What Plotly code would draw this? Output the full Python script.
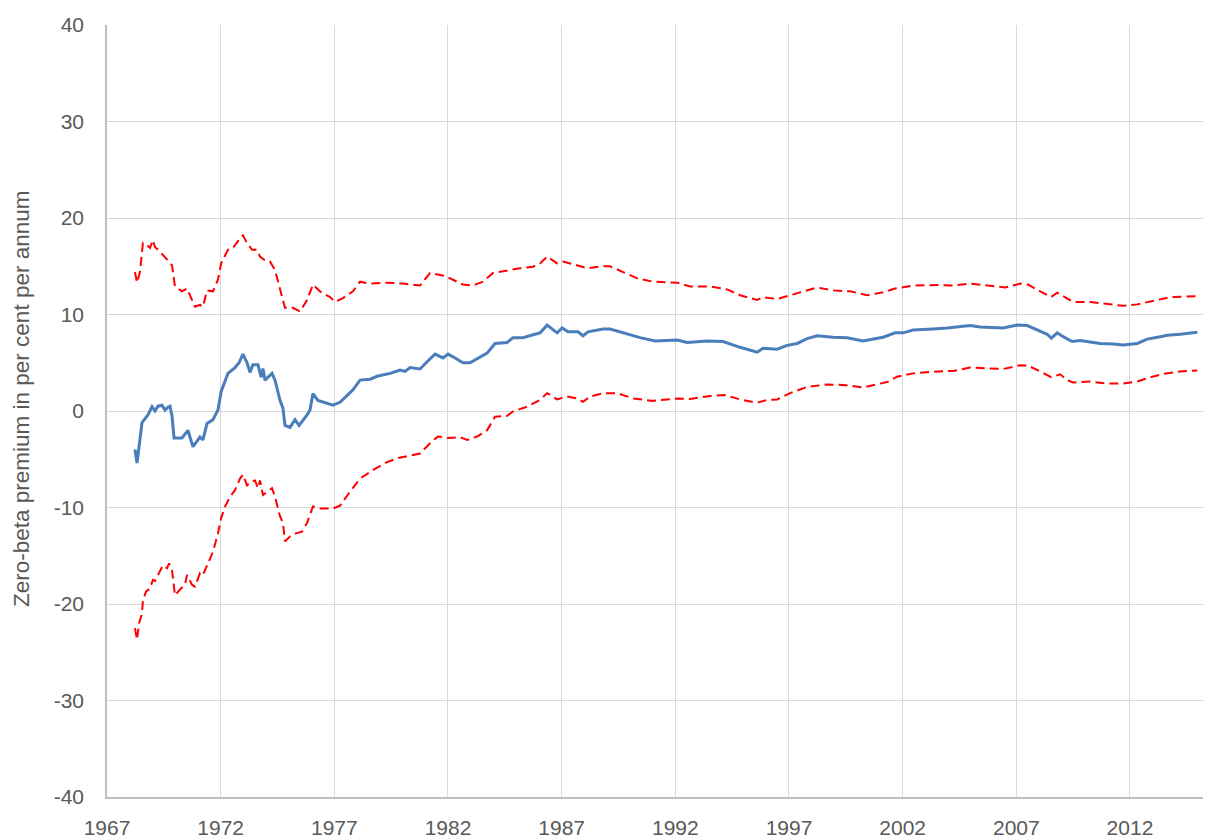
import plotly.graph_objects as go

# Decimal-year positions and values
mid_x = [1968.23, 1968.32, 1968.41, 1968.54, 1968.80, 1968.98, 1969.11, 1969.24, 1969.42, 1969.55,
         1969.68, 1969.77, 1969.86, 1969.95, 1970.30, 1970.56, 1970.78, 1971.09, 1971.22, 1971.40,
         1971.66, 1971.88, 1972.02, 1972.32, 1972.63, 1972.81, 1972.98, 1973.16, 1973.29, 1973.42,
         1973.64, 1973.78, 1973.86, 1973.95, 1974.26, 1974.39, 1974.61, 1974.74, 1974.83, 1975.05,
         1975.27, 1975.45, 1975.80, 1975.93, 1976.06, 1976.28, 1976.94, 1977.25, 1977.60, 1977.82,
         1978.13, 1978.57, 1978.88, 1979.45, 1979.89, 1980.11, 1980.33, 1980.77, 1981.08, 1981.43,
         1981.78, 1982.00, 1982.31, 1982.66, 1982.97, 1983.41, 1983.72, 1984.07, 1984.60, 1984.86,
         1985.30, 1985.74, 1986.05, 1986.36, 1986.80, 1987.02, 1987.28, 1987.72, 1987.94, 1988.16,
         1988.82, 1989.13, 1989.70, 1990.45, 1991.11, 1992.08, 1992.52, 1993.40, 1994.10, 1994.85,
         1995.60, 1995.86, 1996.48, 1996.92, 1997.36, 1997.80, 1998.24, 1998.94, 1999.56, 2000.26,
         2001.14, 2001.67, 2002.02, 2002.46, 2003.34, 2003.96, 2004.97, 2005.41, 2006.42, 2007.04,
         2007.48, 2007.92, 2008.36, 2008.54, 2008.80, 2009.06, 2009.46, 2009.81, 2010.69, 2011.26,
         2011.70, 2012.32, 2012.76, 2013.33, 2013.64, 2014.21, 2014.96]
mid_y = [-4.0, -5.4, -3.7, -1.2, -0.4, 0.45, 0.0, 0.5, 0.6, 0.1,
         0.4, 0.5, -0.5, -2.8, -2.8, -2.0, -3.7, -2.7, -3.0, -1.3,
         -0.9, 0.1, 2.0, 3.9, 4.5, 5.0, 5.9, 5.0, 4.0, 4.8,
         4.8, 3.5, 4.4, 3.2, 3.9, 3.2, 1.1, 0.3, -1.5, -1.7,
         -0.9, -1.5, -0.4, 0.1, 1.8, 1.1, 0.6, 0.9, 1.7, 2.2,
         3.2, 3.3, 3.6, 3.9, 4.25, 4.1, 4.5, 4.35, 5.1, 5.9,
         5.5, 5.9, 5.5, 5.0, 5.0, 5.6, 6.0, 7.0, 7.1, 7.6,
         7.6, 7.9, 8.1, 8.9, 8.1, 8.6, 8.2, 8.2, 7.8, 8.2,
         8.5, 8.5, 8.1, 7.6, 7.25, 7.35, 7.1, 7.25, 7.2, 6.6,
         6.1, 6.5, 6.4, 6.8, 7.0, 7.5, 7.8, 7.65, 7.6, 7.25,
         7.65, 8.1, 8.1, 8.4, 8.5, 8.6, 8.85, 8.7, 8.6, 8.9,
         8.85, 8.4, 7.95, 7.55, 8.1, 7.7, 7.2, 7.3, 7.0, 6.95,
         6.85, 7.0, 7.45, 7.7, 7.85, 7.95, 8.15]

up_x = [1968.23, 1968.32, 1968.45, 1968.58, 1968.76, 1968.89, 1969.02, 1969.11, 1969.33, 1969.46,
        1969.68, 1969.86, 1969.99, 1970.30, 1970.52, 1970.74, 1970.87, 1971.09, 1971.22, 1971.40,
        1971.66, 1971.88, 1972.02, 1972.32, 1972.54, 1972.85, 1972.98, 1973.16, 1973.38, 1973.60,
        1973.73, 1973.95, 1974.17, 1974.39, 1974.61, 1974.83, 1975.18, 1975.49, 1975.80, 1976.06,
        1976.37, 1976.81, 1977.03, 1977.38, 1977.82, 1978.13, 1978.57, 1979.32, 1980.02, 1980.46,
        1980.77, 1981.21, 1981.56, 1981.87, 1982.22, 1982.66, 1983.10, 1983.54, 1983.98, 1984.60,
        1985.17, 1985.74, 1986.05, 1986.36, 1986.80, 1987.06, 1987.68, 1988.12, 1988.82, 1989.13,
        1989.70, 1990.32, 1991.02, 1992.08, 1992.65, 1993.53, 1994.28, 1994.85, 1995.60, 1995.86,
        1996.48, 1997.05, 1997.62, 1998.24, 1998.94, 1999.69, 2000.44, 2001.14, 2001.67, 2002.46,
        2003.52, 2004.22, 2004.97, 2005.85, 2006.51, 2007.17, 2007.52, 2008.05, 2008.53, 2008.80,
        2009.24, 2009.50, 2010.25, 2011.00, 2011.70, 2012.32, 2012.76, 2013.33, 2013.77, 2014.96]
up_y = [14.4, 13.3, 14.4, 17.4, 17.2, 16.9, 17.7, 17.0, 16.5, 16.2,
        15.6, 15.1, 12.9, 12.4, 12.7, 11.5, 10.8, 11.0, 10.8, 12.5,
        12.4, 13.6, 15.3, 16.7, 16.9, 17.9, 18.2, 17.4, 16.7, 16.7,
        16.0, 15.6, 15.5, 14.6, 12.5, 10.7, 10.7, 10.3, 11.5, 13.1,
        12.4, 11.8, 11.3, 11.7, 12.4, 13.4, 13.2, 13.3, 13.2, 13.1,
        13.0, 14.3, 14.1, 14.0, 13.6, 13.1, 13.0, 13.4, 14.3, 14.6,
        14.8, 14.95, 15.3, 16.0, 15.3, 15.5, 15.1, 14.8, 15.0, 15.0,
        14.4, 13.75, 13.4, 13.3, 12.9, 12.9, 12.6, 12.0, 11.5, 11.8,
        11.6, 12.0, 12.4, 12.8, 12.5, 12.4, 12.0, 12.3, 12.7, 13.0,
        13.05, 13.0, 13.2, 12.95, 12.8, 13.2, 13.1, 12.4, 11.8, 12.25,
        11.6, 11.3, 11.3, 11.1, 10.9, 11.05, 11.3, 11.6, 11.8, 11.9]

lo_x = [1968.23, 1968.32, 1968.41, 1968.54, 1968.58, 1968.72, 1968.89, 1969.02, 1969.11, 1969.33,
        1969.46, 1969.64, 1969.73, 1969.86, 1969.99, 1970.21, 1970.43, 1970.52, 1970.74, 1970.87,
        1971.09, 1971.22, 1971.40, 1971.66, 1971.88, 1972.02, 1972.19, 1972.41, 1972.63, 1972.85,
        1972.98, 1973.16, 1973.38, 1973.51, 1973.64, 1973.73, 1973.86, 1974.26, 1974.39, 1974.61,
        1974.74, 1974.83, 1975.05, 1975.27, 1975.58, 1975.80, 1976.06, 1976.37, 1976.94, 1977.25,
        1977.65, 1978.13, 1978.79, 1979.32, 1979.76, 1980.20, 1980.77, 1981.21, 1981.56, 1982.09,
        1982.53, 1982.84, 1983.28, 1983.72, 1984.07, 1984.60, 1984.86, 1985.48, 1986.05, 1986.36,
        1986.80, 1987.24, 1987.68, 1987.94, 1988.25, 1988.82, 1989.44, 1990.14, 1991.02, 1992.08,
        1992.65, 1993.53, 1994.19, 1994.85, 1995.60, 1996.04, 1996.48, 1997.05, 1997.80, 1998.68,
        1999.38, 2000.26, 2001.01, 2001.32, 2001.76, 2002.46, 2003.52, 2004.22, 2004.97, 2005.85,
        2006.42, 2007.17, 2007.52, 2008.05, 2008.53, 2008.93, 2009.24, 2009.50, 2010.25, 2011.00,
        2011.70, 2012.32, 2012.76, 2013.46, 2014.21, 2014.96]
lo_y = [-22.5, -23.7, -22.0, -21.0, -19.6, -18.7, -18.4, -17.5, -17.6, -16.6,
        -16.0, -16.3, -15.8, -16.5, -19.1, -18.5, -18.0, -17.0, -18.0, -18.2,
        -16.8, -17.0, -16.0, -14.6, -12.7, -11.1, -9.9, -8.9, -8.2, -7.0,
        -6.6, -7.7, -7.3, -7.2, -8.0, -7.2, -8.7, -8.0, -8.9, -10.9,
        -11.6, -13.5, -13.0, -12.7, -12.5, -11.6, -9.9, -10.1, -10.1, -9.8,
        -8.5, -7.0, -6.0, -5.3, -4.9, -4.7, -4.4, -3.35, -2.65, -2.8,
        -2.7, -3.0, -2.65, -2.0, -0.6, -0.5, -0.05, 0.45, 1.15, 1.85,
        1.2, 1.5, 1.3, 0.95, 1.5, 1.85, 1.85, 1.3, 1.05, 1.3,
        1.25, 1.55, 1.65, 1.2, 0.85, 1.15, 1.2, 1.85, 2.5, 2.75,
        2.7, 2.45, 2.8, 3.0, 3.55, 3.9, 4.1, 4.15, 4.5, 4.4,
        4.35, 4.75, 4.7, 4.1, 3.5, 3.8, 3.2, 2.95, 3.05, 2.85,
        2.85, 3.05, 3.4, 3.85, 4.1, 4.2]

x_ticks = [1967, 1972, 1977, 1982, 1987, 1992, 1997, 2002, 2007, 2012]
y_ticks = [-40, -30, -20, -10, 0, 10, 20, 30, 40]
y_tick_text = ["-40", "-30", "-20", "-10", "0", "10", "20", "30", "40"]
y_title = "Zero-beta premium in per cent per annum"

FONT = "Liberation Sans"
GREY = "#595959"

fig = go.Figure()
fig.add_trace(go.Scatter(x=up_x, y=up_y, mode="lines",
                         line=dict(color="#FF0000", width=2, dash="9px,5px")))
fig.add_trace(go.Scatter(x=lo_x, y=lo_y, mode="lines",
                         line=dict(color="#FF0000", width=2, dash="9px,5px")))
fig.add_trace(go.Scatter(x=mid_x, y=mid_y, mode="lines",
                         line=dict(color="#4A7EBB", width=3)))

# page body has an 8px margin, so the figure is sized/offset to compensate
fig.update_layout(
    width=1203, height=832,
    margin=dict(l=99, r=1, t=17, b=43),
    paper_bgcolor="white", plot_bgcolor="white",
    showlegend=False,
    font=dict(family=FONT, color=GREY, size=21),
)
fig.update_xaxes(
    range=[1967, 2015.52], tickvals=x_ticks, ticktext=[str(v) for v in x_ticks],
    showgrid=True, gridcolor="#D9D9D9", gridwidth=1.3,
    showline=True, linecolor="#BFBFBF", linewidth=1.5,
    zeroline=False, ticks="", ticklabelstandoff=11, automargin=False,
    tickfont=dict(size=21, color=GREY, family=FONT),
)
fig.update_yaxes(
    range=[-40, 40], tickvals=y_ticks, ticktext=y_tick_text,
    showgrid=True, gridcolor="#D9D9D9", gridwidth=1.3,
    showline=True, linecolor="#BFBFBF", linewidth=1.5,
    zeroline=False, ticks="", ticklabelstandoff=17, automargin=False,
    tickfont=dict(size=21, color=GREY, family=FONT),
)
fig.add_annotation(
    text=y_title, textangle=-90, showarrow=False,
    xref="paper", yref="paper", x=0, y=0.5, xanchor="center", yanchor="middle",
    xshift=-86, yshift=12,
    font=dict(size=22.5, color=GREY, family=FONT),
)

fig.write_html("out.html")
